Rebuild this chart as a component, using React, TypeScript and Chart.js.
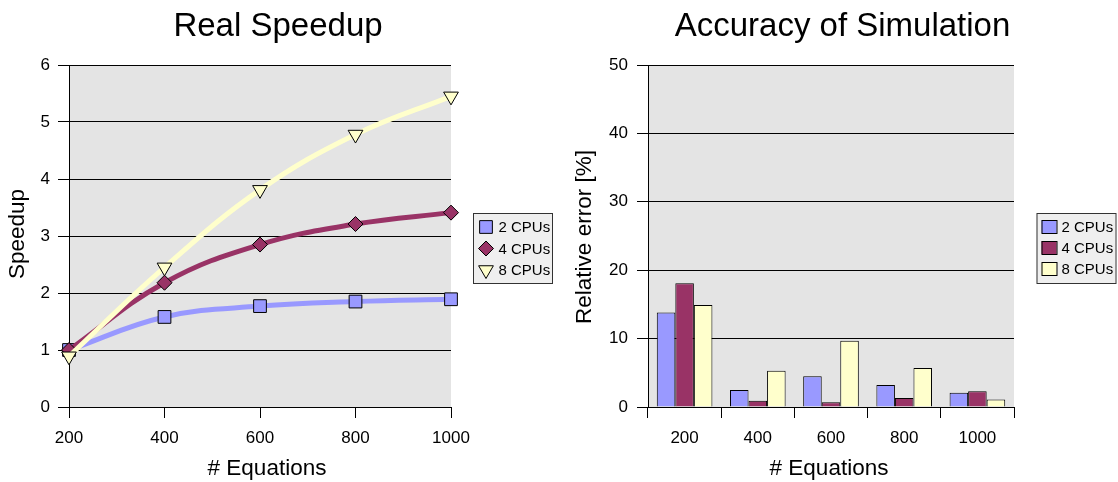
import React, { useEffect, useRef } from 'react';
import { Chart, registerables } from 'chart.js';
import { drawPoint } from 'chart.js/helpers';

Chart.register(...registerables);

// ---- data ----
const equations = [200, 400, 600, 800, 1000];
const categoryLabels = ['200', '400', '600', '800', '1000'];
const seriesLabels = ['2 CPUs', '4 CPUs', '8 CPUs'];
const speedup2 = [1.0, 1.58, 1.77, 1.85, 1.89];
const speedup4 = [1.0, 2.18, 2.85, 3.21, 3.41];
const speedup8 = [0.89, 2.45, 3.81, 4.78, 5.45];
const error2 = [13.8, 2.5, 4.5, 3.2, 2.1];
const error4 = [18.1, 0.9, 0.7, 1.3, 2.3];
const error8 = [14.9, 5.3, 9.7, 5.7, 1.1];
const speedupTicksMax = 6;
const errorTicksMax = 50;

const seriesColors = ['#9999FF', '#993366', '#FFFFCC'];
const FONT = '"Liberation Sans", Arial, Helvetica, sans-serif';

Chart.defaults.font.family = FONT;
Chart.defaults.color = '#000';

const plotBg = {
  id: 'plotBg',
  beforeDraw(chart: any) {
    const { ctx, chartArea } = chart;
    ctx.save();
    ctx.fillStyle = '#e4e4e4';
    ctx.fillRect(chartArea.left, chartArea.top, chartArea.right - chartArea.left, chartArea.bottom - chartArea.top);
    ctx.restore();
  },
};

const texts = {
  id: 'texts',
  afterDraw(chart: any, _args: any, opts: any) {
    const { ctx } = chart;
    ctx.save();
    ctx.fillStyle = '#000';
    ctx.textAlign = 'center';
    ctx.textBaseline = 'middle';
    ctx.font = `33px ${FONT}`;
    ctx.fillText(opts.title, opts.titleX, opts.titleY);
    ctx.font = `22.5px ${FONT}`;
    ctx.fillText(opts.xTitle, opts.xTitleX, opts.xTitleY);
    ctx.translate(opts.yTitleX, opts.yTitleY);
    ctx.rotate(-Math.PI / 2);
    ctx.fillText(opts.yTitle, 0, 0);
    ctx.restore();
  },
};

const boxLegend = {
  id: 'boxLegend',
  afterDraw(chart: any, _args: any, opts: any) {
    const { ctx, chartArea } = chart;
    const x = chartArea.right + opts.dx;
    const y = opts.y;
    ctx.save();
    ctx.fillStyle = '#efefef';
    ctx.strokeStyle = '#333';
    ctx.lineWidth = 1;
    ctx.fillRect(x, y, opts.w, opts.h);
    ctx.strokeRect(x + 0.5, y + 0.5, opts.w, opts.h);
    ctx.font = `15px ${FONT}`;
    ctx.textAlign = 'left';
    ctx.textBaseline = 'middle';
    chart.data.datasets.forEach((ds: any, i: number) => {
      const cy = y + opts.firstRow + i * opts.rowStep;
      const mx = x + opts.markerX;
      if (opts.kind === 'line') {
        ctx.fillStyle = ds.pointBackgroundColor;
        ctx.strokeStyle = '#000';
        ctx.lineWidth = 1;
        drawPoint(ctx, { pointStyle: ds.pointStyle, rotation: ds.pointRotation || 0, radius: ds.pointRadius, borderWidth: 1 }, mx, cy);
      } else {
        ctx.fillStyle = ds.backgroundColor;
        ctx.strokeStyle = '#000';
        ctx.lineWidth = 1;
        ctx.fillRect(mx - 7.5, cy - 6.5, 15, 13);
        ctx.strokeRect(mx - 7.5 + 0.5, cy - 6.5 + 0.5, 15, 13);
      }
      ctx.fillStyle = '#000';
      ctx.fillText(ds.label, x + opts.textX, cy + 1);
    });
    ctx.restore();
  },
};

function SpeedupChart() {
  const ref = useRef<HTMLCanvasElement>(null);
  useEffect(() => {
    const styles = [
      { pointStyle: 'rect', pointRadius: 9, pointRotation: 0 },
      { pointStyle: 'rectRot', pointRadius: 7.5, pointRotation: 0 },
      { pointStyle: 'triangle', pointRadius: 8.5, pointRotation: 180 },
    ];
    const values = [speedup2, speedup4, speedup8];
    const chart = new Chart(ref.current!, {
      type: 'line',
      data: {
        datasets: values.map((vals, i) => ({
          label: seriesLabels[i],
          data: equations.map((x, j) => ({ x, y: vals[j] })),
          borderColor: seriesColors[i],
          borderWidth: 5,
          tension: 0.4,
          pointStyle: styles[i].pointStyle,
          pointRadius: styles[i].pointRadius,
          pointRotation: styles[i].pointRotation,
          pointBackgroundColor: seriesColors[i],
          pointBorderColor: '#000',
          pointBorderWidth: 1,
          clip: false,
          order: 3 - i,
        })) as any,
      },
      options: {
        animation: false,
        responsive: false,
        devicePixelRatio: 1,
        events: [],
        layout: { padding: { top: 65, right: 108, bottom: 0, left: 0 } },
        plugins: {
          legend: { display: false },
          tooltip: { enabled: false },
          texts: {
            title: 'Real Speedup', titleX: 278, titleY: 27,
            xTitle: '# Equations', xTitleX: 267, xTitleY: 469,
            yTitle: 'Speedup', yTitleX: 18, yTitleY: 234,
          },
          boxLegend: { kind: 'line', dx: 22, y: 213, w: 79, h: 70, firstRow: 14, rowStep: 21.5, markerX: 13, textX: 25.5 },
        } as any,
        scales: {
          x: {
            type: 'linear',
            min: equations[0],
            max: equations[equations.length - 1],
            ticks: { stepSize: 200, font: { size: 17 }, padding: 10, color: '#000', callback: (v: any) => String(v) },
            grid: { drawOnChartArea: false, drawTicks: true, tickLength: 11, color: '#000' },
            border: { color: '#000', width: 1 },
            afterFit: (s: any) => { s.height = 75; },
          },
          y: {
            min: 0,
            max: speedupTicksMax,
            ticks: { stepSize: 1, font: { size: 17 }, padding: 8, color: '#000' },
            grid: { color: '#000', tickLength: 11 },
            border: { color: '#000', width: 1 },
            afterFit: (s: any) => { s.width = 69; },
          },
        },
      },
      plugins: [plotBg, texts, boxLegend],
    });
    return () => chart.destroy();
  }, []);
  return <canvas ref={ref} width={559} height={482} style={{ position: 'absolute', left: 0, top: 0, width: 559, height: 482 }} />;
}

function AccuracyChart() {
  const ref = useRef<HTMLCanvasElement>(null);
  useEffect(() => {
    const values = [error2, error4, error8];
    const chart = new Chart(ref.current!, {
      type: 'bar',
      data: {
        labels: categoryLabels,
        datasets: values.map((vals, i) => ({
          label: seriesLabels[i],
          data: vals,
          backgroundColor: seriesColors[i],
          borderColor: '#000',
          borderWidth: 1,
          categoryPercentage: 0.76,
          barPercentage: 1,
        })),
      },
      options: {
        animation: false,
        responsive: false,
        devicePixelRatio: 1,
        events: [],
        layout: { padding: { top: 65, right: 104, bottom: 0, left: 0 } },
        plugins: {
          legend: { display: false },
          tooltip: { enabled: false },
          texts: {
            title: 'Accuracy of Simulation', titleX: 283.5, titleY: 27,
            xTitle: '# Equations', xTitleX: 270, xTitleY: 469,
            yTitle: 'Relative error [%]', yTitleX: 26, yTitleY: 237,
          },
          boxLegend: { kind: 'bar', dx: 22.5, y: 213, w: 79, h: 70, firstRow: 13.5, rowStep: 21, markerX: 12.5, textX: 25 },
        } as any,
        scales: {
          x: {
            ticks: { font: { size: 17 }, padding: 10, color: '#000' },
            grid: { drawOnChartArea: false, drawTicks: true, tickLength: 11, color: '#000', offset: true },
            border: { color: '#000', width: 1 },
            afterFit: (s: any) => { s.height = 75; },
          },
          y: {
            min: 0,
            max: errorTicksMax,
            ticks: { stepSize: 10, font: { size: 17 }, padding: 9, color: '#000' },
            grid: { color: '#000', tickLength: 11 },
            border: { color: '#000', width: 1 },
            afterFit: (s: any) => { s.width = 89; },
          },
        },
      },
      plugins: [plotBg, texts, boxLegend],
    });
    return () => chart.destroy();
  }, []);
  return <canvas ref={ref} width={559} height={482} style={{ position: 'absolute', left: 559, top: 0, width: 559, height: 482 }} />;
}

export default function App() {
  return (
    <div style={{ position: 'fixed', left: 0, top: 0, width: 1118, height: 482, background: '#fff', overflow: 'hidden' }}>
      <SpeedupChart />
      <AccuracyChart />
    </div>
  );
}
